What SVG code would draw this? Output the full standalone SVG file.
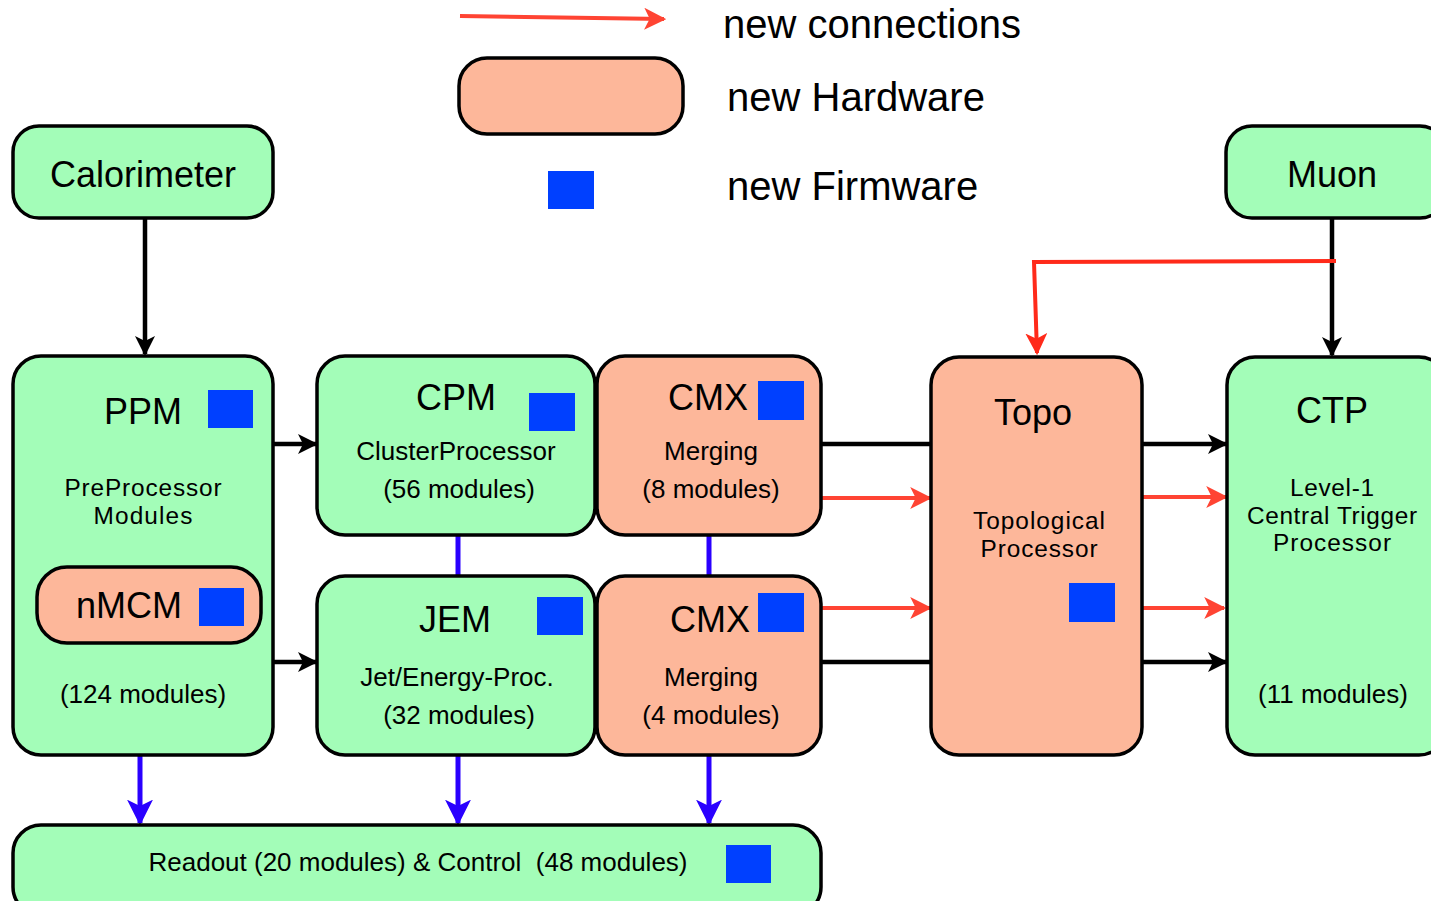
<svg xmlns="http://www.w3.org/2000/svg" width="1431" height="901" viewBox="0 0 1431 901">
<style>
text{font-family:"Liberation Sans",Arial,sans-serif;fill:#000;text-anchor:middle}
.g{fill:#a3fdb8;stroke:#000;stroke-width:3.5}
.s{fill:#fdb79a;stroke:#000;stroke-width:3.5}
.b{fill:#0040ff}
.t36{font-size:36px}
.t26{font-size:26px}
.t24{font-size:24.4px}
.t40{font-size:40px;text-anchor:start}
.k{stroke:#000;stroke-width:4.5;fill:none}
.r{stroke:#ff4433;stroke-width:4;fill:none}
.rr{stroke:#ff2a1a;stroke-width:4;fill:none}
.u{stroke:#2a00ff;stroke-width:5;fill:none}
</style>
<defs>
<marker id="ak" viewBox="0 0 20 20" refX="18" refY="10" markerWidth="20" markerHeight="20" markerUnits="userSpaceOnUse" orient="auto"><path d="M0,0 L20,10 L0,20 L5,10 Z" fill="#000"/></marker>
<marker id="ar" viewBox="0 0 20 20" refX="18" refY="10" markerWidth="22" markerHeight="22" markerUnits="userSpaceOnUse" orient="auto"><path d="M0,0 L20,10 L0,20 L5,10 Z" fill="#ff4433"/></marker>
<marker id="arr" viewBox="0 0 20 20" refX="18" refY="10" markerWidth="22" markerHeight="22" markerUnits="userSpaceOnUse" orient="auto"><path d="M0,0 L20,10 L0,20 L5,10 Z" fill="#ff2a1a"/></marker>
<marker id="au" viewBox="0 0 20 20" refX="18" refY="10" markerWidth="26" markerHeight="26" markerUnits="userSpaceOnUse" orient="auto"><path d="M0,0 L20,10 L0,20 L5,10 Z" fill="#2a00ff"/></marker>
</defs>

<g id="legend">
<line x1="460" y1="16" x2="664" y2="19" class="r" marker-end="url(#ar)"/>
<text x="723" y="38" class="t40">new connections</text>
<rect x="459" y="58" width="224" height="76" rx="28" class="s"/>
<text x="727" y="111" class="t40">new Hardware</text>
<rect x="548" y="171" width="46" height="38" class="b"/>
<text x="727" y="200" class="t40">new Firmware</text>
</g>

<g id="connectors">
<line x1="145" y1="218" x2="145" y2="354" class="k" marker-end="url(#ak)"/>
<line x1="1332" y1="218" x2="1332" y2="355" class="k" marker-end="url(#ak)"/>
<polyline points="1336,261 1034,262 1037,353" class="rr" marker-end="url(#arr)"/>
<line x1="273" y1="444" x2="316" y2="444" class="k" marker-end="url(#ak)"/>
<line x1="273" y1="662" x2="316" y2="662" class="k" marker-end="url(#ak)"/>
<line x1="458" y1="535" x2="458" y2="576" class="u"/>
<line x1="709" y1="535" x2="709" y2="576" class="u"/>
<line x1="821" y1="444" x2="931" y2="444" class="k"/>
<line x1="821" y1="498" x2="930" y2="498" class="r" marker-end="url(#ar)"/>
<line x1="821" y1="608" x2="930" y2="608" class="r" marker-end="url(#ar)"/>
<line x1="821" y1="662" x2="931" y2="662" class="k"/>
<line x1="1142" y1="444" x2="1226" y2="444" class="k" marker-end="url(#ak)"/>
<line x1="1142" y1="497" x2="1226" y2="497" class="r" marker-end="url(#ar)"/>
<line x1="1142" y1="608" x2="1224" y2="608" class="r" marker-end="url(#ar)"/>
<line x1="1142" y1="662" x2="1226" y2="662" class="k" marker-end="url(#ak)"/>
<line x1="140" y1="755" x2="140" y2="823" class="u" marker-end="url(#au)"/>
<line x1="458" y1="755" x2="458" y2="823" class="u" marker-end="url(#au)"/>
<line x1="709" y1="755" x2="709" y2="823" class="u" marker-end="url(#au)"/>
</g>

<g id="calorimeter">
<rect x="13" y="126" width="260" height="92" rx="26" class="g"/>
<text x="143" y="187" class="t36">Calorimeter</text>
</g>

<g id="muon">
<rect x="1226" y="126" width="220" height="92" rx="26" class="g"/>
<text x="1332" y="187" class="t36">Muon</text>
</g>

<g id="ppm">
<rect x="13" y="356" width="260" height="399" rx="28" class="g"/>
<text x="143" y="424" class="t36">PPM</text>
<rect x="208" y="390" width="45" height="38" class="b"/>
<text x="143" y="496" class="t24" textLength="157">PreProcessor</text>
<text x="143" y="523.5" class="t24" textLength="99">Modules</text>
<text x="143" y="703" class="t26">(124 modules)</text>
</g>

<g id="nmcm">
<rect x="37" y="567" width="224" height="76" rx="30" class="s"/>
<text x="129" y="618" class="t36">nMCM</text>
<rect x="199" y="588" width="45" height="38" class="b"/>
</g>

<g id="cpm">
<rect x="317" y="356" width="278" height="179" rx="28" class="g"/>
<text x="456" y="410" class="t36">CPM</text>
<rect x="529" y="393" width="46" height="38" class="b"/>
<text x="456" y="460" class="t26">ClusterProcessor</text>
<text x="459" y="498" class="t26">(56 modules)</text>
</g>

<g id="cmx1">
<rect x="597" y="356" width="224" height="179" rx="28" class="s"/>
<text x="708" y="410" class="t36">CMX</text>
<rect x="758" y="381" width="46" height="39" class="b"/>
<text x="711" y="460" class="t26">Merging</text>
<text x="711" y="498" class="t26">(8 modules)</text>
</g>

<g id="jem">
<rect x="317" y="576" width="278" height="179" rx="28" class="g"/>
<text x="455" y="632" class="t36">JEM</text>
<rect x="537" y="597" width="46" height="38" class="b"/>
<text x="457" y="686" class="t26">Jet/Energy-Proc.</text>
<text x="459" y="724" class="t26">(32 modules)</text>
</g>

<g id="cmx2">
<rect x="597" y="576" width="224" height="179" rx="28" class="s"/>
<text x="710" y="632" class="t36">CMX</text>
<rect x="758" y="593" width="46" height="39" class="b"/>
<text x="711" y="686" class="t26">Merging</text>
<text x="711" y="724" class="t26">(4 modules)</text>
</g>

<g id="topo">
<rect x="931" y="357" width="211" height="398" rx="28" class="s"/>
<text x="1033" y="425" class="t36">Topo</text>
<text x="1039" y="529" class="t24" textLength="132">Topological</text>
<text x="1039" y="556.5" class="t24" textLength="117">Processor</text>
<rect x="1069" y="583" width="46" height="39" class="b"/>
</g>

<g id="ctp">
<rect x="1227" y="357" width="220" height="398" rx="28" class="g"/>
<text x="1332" y="423" class="t36">CTP</text>
<text x="1332" y="496" class="t24" textLength="84">Level-1</text>
<text x="1332" y="523.5" class="t24" textLength="170">Central Trigger</text>
<text x="1332" y="551" class="t24" textLength="118">Processor</text>
<text x="1333" y="703" class="t26">(11 modules)</text>
</g>

<g id="readout">
<rect x="13" y="825" width="808" height="90" rx="28" class="g"/>
<text x="418" y="871" class="t26" xml:space="preserve">Readout (20 modules) &amp; Control  (48 modules)</text>
<rect x="726" y="845" width="45" height="38" class="b"/>
</g>
</svg>
